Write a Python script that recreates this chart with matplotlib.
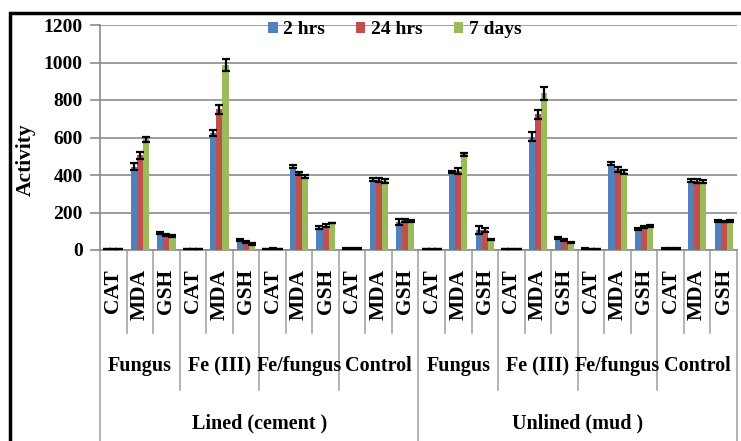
import matplotlib
matplotlib.use("Agg")
import matplotlib.pyplot as plt
import matplotlib.transforms as mtransforms
from matplotlib.lines import Line2D
from matplotlib.patches import Rectangle
import numpy as np

# ---- data -------------------------------------------------------------
sites = ["Lined (cement )", "Unlined (mud )"]
treatments = ["Fungus", "Fe (III)", "Fe/fungus", "Control"]
markers = ["CAT", "MDA", "GSH"]
series_names = ["2 hrs", "24 hrs", "7 days"]

hrs2 = [4, 445, 90,   4, 625, 55,   3, 445, 118,  10, 375, 150,
        4, 415, 108,  3, 605, 65,   8, 460, 112,  10, 370, 155]
hrs24 = [4, 505, 80,  4, 750, 45,   10, 410, 130, 10, 372, 158,
         8, 420, 105, 3, 725, 55,   5, 430, 122,  10, 368, 152]
days7 = [4, 590, 75,  4, 985, 30,   8, 392, 142,  10, 368, 155,
         8, 510, 55,  3, 835, 40,   5, 415, 128,  10, 365, 155]

err2 = [0, 20, 5,   0, 16, 5,   0, 10, 8,   3, 8, 15,
        0, 5, 20,   0, 22, 6,   3, 7, 6,    3, 7, 5]
err24 = [0, 20, 5,  0, 22, 5,   3, 8, 8,    3, 10, 10,
         0, 15, 10, 0, 24, 5,   0, 15, 6,   3, 10, 5]
err7 = [0, 12, 4,   0, 32, 5,   0, 7, 0,    3, 12, 6,
        0, 7, 3,    0, 34, 5,   0, 10, 6,   3, 10, 5]

colors = ["#4F81BD", "#C0504D", "#9BBB59"]
grid_gray = "#8C8C8C"
sep_gray = "#A6A6A6"

# ---- figure -----------------------------------------------------------
W, H = 741, 441
fig = plt.figure(figsize=(W / 100, H / 100), dpi=100)
plt.rcParams["font.family"] = ["Liberation Serif", "DejaVu Serif"]

ax_left, ax_right, ax_top, ax_bot = 100, 737, 25, 250
ax = fig.add_axes([ax_left / W, (H - ax_bot) / H,
                   (ax_right - ax_left) / W, (ax_bot - ax_top) / H])

n = len(hrs2)
x = np.arange(n)
bw = 0.23
ekw = dict(ecolor="black", elinewidth=1.6, capsize=3.2, capthick=1.6)
for k, (vals, errs) in enumerate([(hrs2, err2), (hrs24, err24), (days7, err7)]):
    ax.bar(x + (k - 1) * bw, vals, bw, color=colors[k], label=series_names[k],
           yerr=errs, error_kw=ekw, zorder=3)

ax.set_xlim(-0.5, n - 0.5)
ax.set_ylim(0, 1200)
ax.set_yticks(range(0, 1201, 200))
ax.yaxis.grid(True, color=grid_gray, linewidth=1.2, zorder=0)
ax.set_axisbelow(True)
ax.set_xticks([])
for s in ["top", "right"]:
    ax.spines[s].set_visible(False)
ax.spines["left"].set_color(grid_gray)
ax.spines["left"].set_linewidth(1.2)
ax.spines["bottom"].set_color(grid_gray)
ax.spines["bottom"].set_linewidth(1.2)
ax.tick_params(axis="y", length=7, color=grid_gray, width=1.2, pad=5.5,
               labelsize=14)
for lab in ax.get_yticklabels():
    lab.set_fontweight("bold")

fig.text(26 / W, 1 - 160 / H, "Activity", rotation=90, ha="center",
         va="center", fontsize=15.5, fontweight="bold")

# ---- multi-level category axis ---------------------------------------
trans = mtransforms.blended_transform_factory(ax.transData, fig.transFigure)


def fy(py):
    return 1 - py / H


def vline(xpos, y0, y1):
    ax.add_line(Line2D([xpos, xpos], [fy(y0), fy(y1)], transform=trans,
                       color=sep_gray, linewidth=1.2, clip_on=False))


per_site = len(treatments) * len(markers)
for i in range(n + 1):
    b = i - 0.5
    if i % per_site == 0:
        vline(b, ax_bot, H + 5)
    elif i % len(markers) == 0:
        vline(b, ax_bot, 390)
    else:
        vline(b, ax_bot, 333)

for i in range(n):
    ax.text(i, fy(269), markers[i % len(markers)], transform=trans,
            rotation=90, ha="center", va="top", fontsize=15.5,
            fontweight="bold")

for si in range(len(sites)):
    for ti, tname in enumerate(treatments):
        c = si * per_site + ti * len(markers) + 1
        ax.text(c, fy(366), tname, transform=trans, ha="center",
                va="center", fontsize=14.5, fontweight="bold")
    c = si * per_site + (per_site - 1) / 2
    ax.text(c, fy(423), sites[si], transform=trans, ha="center",
            va="center", fontsize=14.5, fontweight="bold")

# ---- legend -----------------------------------------------------------
leg = ax.legend(loc="center", bbox_to_anchor=(395 / W, fy(30)),
                bbox_transform=fig.transFigure, ncol=3, frameon=False,
                handlelength=0.47, handleheight=0.47, handletextpad=0.3,
                columnspacing=1.6, borderpad=0,
                prop={"size": 14, "weight": "bold"})

# ---- outer frame ------------------------------------------------------
fig.patches.append(Rectangle((10 / W, -0.05), 1.1, fy(13) + 0.05,
                             transform=fig.transFigure, fill=False,
                             edgecolor="black", linewidth=2.5))

fig.savefig("out.png", dpi=100)
